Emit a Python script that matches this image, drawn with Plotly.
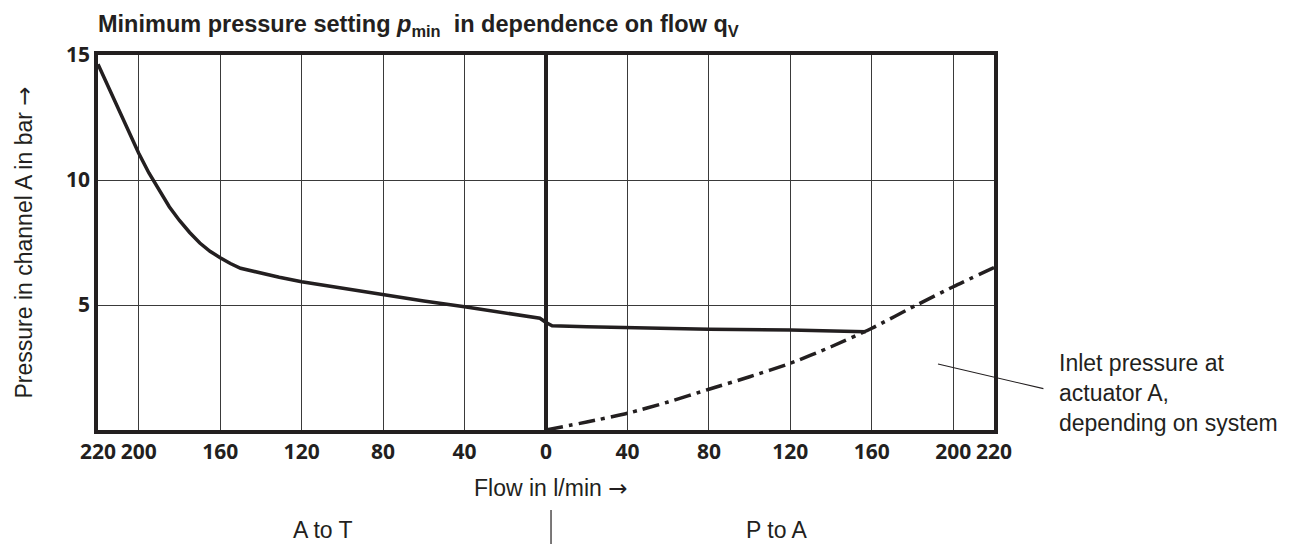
import plotly.graph_objects as go

# Data (flow in l/min; negative = A to T side, positive = P to A side)
x_min_pressure = [-220, -215, -210, -205, -200, -195, -190, -185, -180, -175, -170, -165,
                  -160, -155, -150, -140, -131, -120, -100, -80, -60, -40, -20, -3, 0, 3,
                  20, 40, 80, 120, 157]
y_min_pressure = [14.63, 13.74, 12.85, 11.96, 11.07, 10.28, 9.57, 8.93, 8.38, 7.9, 7.48, 7.15,
                  6.89, 6.66, 6.47, 6.27, 6.11, 5.93, 5.67, 5.4, 5.16, 4.93, 4.7, 4.47, 4.3, 4.17,
                  4.13, 4.09, 4.03, 4.0, 3.93]

x_inlet = [0, 20, 40, 60, 80, 100, 120, 140, 160, 182, 200, 220]
y_inlet = [0, 0.32, 0.67, 1.12, 1.63, 2.13, 2.67, 3.33, 4.07, 5.0, 5.73, 6.5]

x_tickvals = [-220, -200, -160, -120, -80, -40, 0, 40, 80, 120, 160, 200, 220]
x_ticktext = ["220", "200", "160", "120", "80", "40", "0", "40", "80", "120", "160", "200", "220"]
y_tickvals = [5, 10, 15]
y_ticktext = ["5", "10", "15"]

INK = "#231f20"
GRID = "#3a3a3a"
TXT = "Liberation Sans, Arial, sans-serif"
ARROW = '<span style="font-family:DejaVu Sans">→</span>'

fig = go.Figure()
fig.add_trace(go.Scatter(x=x_min_pressure, y=y_min_pressure, mode="lines",
                         line=dict(color=INK, width=3.5),
                         hoverinfo="skip", showlegend=False))
fig.add_trace(go.Scatter(x=x_inlet, y=y_inlet, mode="lines",
                         line=dict(color=INK, width=3.5, dash="17px,6px,4px,6px",
                                   shape="spline", smoothing=0.6),
                         hoverinfo="skip", showlegend=False))

fig.update_layout(
    width=1296, height=544,
    margin=dict(l=98, r=302, t=55, b=114),
    paper_bgcolor="white", plot_bgcolor="white",
    font=dict(family=TXT, color=INK, size=23),
    title=dict(
        text="<b>Minimum pressure setting <i>p</i><sub>min</sub>  in dependence on flow q<sub>V</sub></b>",
        x=98 / 1296, xanchor="left", y=1 - 24 / 544, yanchor="middle",
        font=dict(family=TXT, size=23.5, color=INK)),
)
fig.update_xaxes(range=[-220, 220], tickvals=x_tickvals, ticktext=x_ticktext,
                 showgrid=True, gridcolor=GRID, gridwidth=1.3,
                 zeroline=True, zerolinecolor=INK, zerolinewidth=3.5,
                 showline=True, linecolor=INK, linewidth=3.5, mirror=True,
                 ticks="", tickfont=dict(family="Open Sans", size=21, color=INK, weight="bold"))
fig.update_yaxes(range=[0, 15], tickvals=y_tickvals, ticktext=y_ticktext,
                 showgrid=True, gridcolor=GRID, gridwidth=1.3, zeroline=False,
                 showline=True, linecolor=INK, linewidth=3.5, mirror=True,
                 ticks="", tickfont=dict(family="Open Sans", size=21, color=INK, weight="bold"))

# axis titles
fig.add_annotation(text="Pressure in channel A in bar " + ARROW, xref="paper", yref="paper",
                   x=-0.0837, y=0.5, textangle=-90, showarrow=False,
                   xanchor="center", yanchor="middle", font=dict(size=23))
fig.add_annotation(text="Flow in l/min " + ARROW, xref="paper", yref="paper",
                   x=0.505, y=-0.155, showarrow=False, xanchor="center", yanchor="middle",
                   font=dict(size=23))
fig.add_annotation(text="A to T", xref="paper", yref="paper", x=0.2511, y=-0.2667,
                   showarrow=False, xanchor="center", yanchor="middle", font=dict(size=23))
fig.add_annotation(text="P to A", xref="paper", yref="paper", x=0.758, y=-0.2667,
                   showarrow=False, xanchor="center", yanchor="middle", font=dict(size=23))
fig.add_shape(type="line", xref="paper", yref="paper", x0=0.5056, x1=0.5056,
              y0=-0.2133, y1=-0.31, line=dict(color=INK, width=1.2))

# leader line + label
fig.add_annotation(text="", x=192.5, y=2.64, xref="x", yref="y",
                   ax=245, ay=1.64, axref="x", ayref="y",
                   showarrow=True, arrowhead=0, arrowwidth=1.1, arrowcolor=INK, standoff=0)
fig.add_annotation(text="Inlet pressure at<br>actuator A,<br>depending on system",
                   xref="paper", yref="paper", x=(1057 - 98) / 896, y=(430 - 393) / 375,
                   xanchor="left", yanchor="middle", align="left", showarrow=False,
                   font=dict(size=23))

fig.write_html("out.html", config={"displayModeBar": False},
               post_script="document.body.style.margin='0';")
